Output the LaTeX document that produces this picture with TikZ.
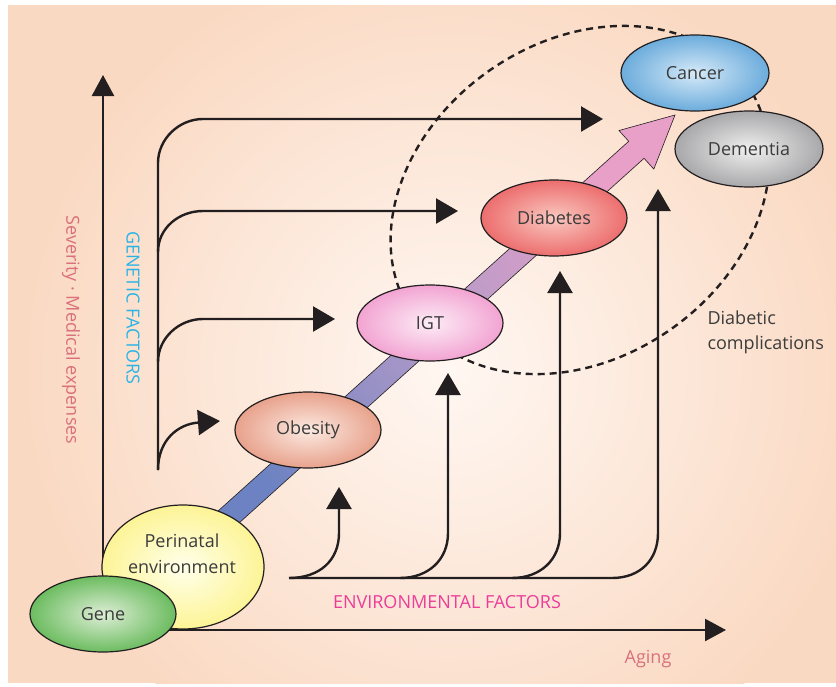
\documentclass[tikz,border=0pt]{standalone}
\usepackage{fontspec}
\setmainfont{Open Sans}
\usetikzlibrary{shapes.geometric,arrows.meta}
\definecolor{bgout}{HTML}{FAD9C2}
\definecolor{bgin}{HTML}{FFF7F2}
\definecolor{ink}{HTML}{231F20}
\definecolor{txt}{HTML}{3C3C3C}
\definecolor{sevcol}{HTML}{D9707C}
\definecolor{gencol}{HTML}{2AB4E6}
\definecolor{envcol}{HTML}{EC3D9A}
\definecolor{ablue}{HTML}{6C82C2}
\definecolor{apurple}{HTML}{B29AC8}
\definecolor{apink}{HTML}{E9A0C8}
\begin{document}
\begin{tikzpicture}[x=1pt,y=-1pt,
  every node/.style={font=\fontsize{18}{22}\selectfont, text=txt},
  blob/.style={ellipse, draw=ink, line width=1.2pt, minimum width=146pt, minimum height=76pt, inner sep=0pt},
  ln/.style={line width=2.4pt, draw=ink},
  tipped/.style={-{Triangle[length=22pt,width=25pt]}},
  axtip/.style={-{Triangle[length=21pt,width=22pt]}}]
\useasboundingbox (0,0) rectangle (836,686);
% background
\fill[white] (0,0) rectangle (836,686);
\fill[bgout] (8,5) rectangle (836,683);
\begin{scope}
  \clip (8,5) rectangle (836,683);
  \shade[inner color=bgin, outer color=bgout] (450,370) circle (430);
\end{scope}
% dashed ellipse
\draw[ink, line width=2.4pt, dash pattern=on 7pt off 5pt, rotate around={35:(580,200)}]
  (580,200) ellipse [x radius=203, y radius=158];
% axes
\coordinate (o) at (103,630);
\coordinate (ytip) at (103,75);
\coordinate (xtip) at (726,630);
\draw[ln, axtip] (o) -- (ytip);
\draw[ln, axtip] (o) -- (xtip);
% genetic factors arrows
\coordinate (g0) at (158,470);
\coordinate (gt1) at (603,119);
\coordinate (gt2) at (458,211);
\coordinate (gt3) at (335,319);
\coordinate (gt4) at (220,421);
\draw[ln, tipped] (g0) -- (158,163) .. controls (158,139) and (179,119) .. (203,119) -- (gt1);
\draw[ln, tipped] (158,252) .. controls (158,228) and (179,211) .. (203,211) -- (gt2);
\draw[ln, tipped] (158,362) .. controls (158,338) and (179,319) .. (203,319) -- (gt3);
\draw[ln, tipped] (g0) .. controls (158,440) and (178,424) .. (gt4);
% environmental factors arrows
\coordinate (e0) at (289,578);
\coordinate (et1) at (339,487);
\coordinate (et2) at (448,373);
\coordinate (et3) at (560,271);
\coordinate (et4) at (658,189);
\draw[ln, tipped] (e0) -- (612,578) .. controls (640,578) and (658,560) .. (658,533) -- (et4);
\draw[ln, tipped] (e0) .. controls (320,578) and (339,560) .. (339,533) -- (et1);
\draw[ln, tipped] (400,578) .. controls (428,578) and (448,560) .. (448,533) -- (et2);
\draw[ln, tipped] (512,578) .. controls (540,578) and (560,560) .. (560,533) -- (et3);
% big diagonal arrow
\shade[draw=ink, line width=0.6pt, top color=apink, bottom color=ablue, middle color=apurple, shading angle=-48]
  (195.3,531.5) -- (628.7,141.3) -- (619.0,130.5) -- (675,115) -- (653.8,169.1) -- (644.1,158.3) -- (210.7,548.5) -- cycle;
% nodes
\node[blob, minimum width=162pt, minimum height=124pt, inner color=yellow!8, outer color={rgb,255:red,253;green,244;blue,150}] (peri) at (183,567) {};
\node (perilbl) at (182,554) [align=center, font=\fontsize{18}{26}\selectfont] {Perinatal\\environment};
\node[blob, inner color={rgb,255:red,222;green,238;blue,214}, outer color={rgb,255:red,108;green,188;blue,96}] (gene) at (103,614) {Gene};
\node[blob, inner color={rgb,255:red,252;green,234;blue,226}, outer color={rgb,255:red,232;green,162;blue,140}] (obesity) at (308,430) {Obesity};
\node[blob, inner color={rgb,255:red,253;green,236;blue,246}, outer color={rgb,255:red,242;green,164;blue,210}] (igt) at (430,323) {IGT};
\node[blob, inner color={rgb,255:red,250;green,200;blue,192}, outer color={rgb,255:red,236;green,110;blue,110}] (diabetes) at (554,218) {Diabetes};
\node[blob, minimum width=148pt, inner color={rgb,255:red,214;green,234;blue,248}, outer color={rgb,255:red,108;green,172;blue,220}] (cancer) at (695,73) {Cancer};
\node[blob, minimum width=148pt, inner color={rgb,255:red,240;green,240;blue,240}, outer color={rgb,255:red,168;green,168;blue,170}] (dementia) at (749,149) {Dementia};
% labels
\node[rotate=-90, text=sevcol] (sev) at (71,330) {Severity · Medical expenses};
\node[rotate=-90, text=gencol] (gen) at (133,308) {GENETIC FACTORS};
\node[text=envcol] (env) at (447,602) {ENVIRONMENTAL FACTORS};
\node[text=sevcol] (aging) at (648,659) {Aging};
\node[align=left, anchor=west, font=\fontsize{18}{25}\selectfont] (dc) at (704,332) {Diabetic\\complications};
\end{tikzpicture}
\end{document}
